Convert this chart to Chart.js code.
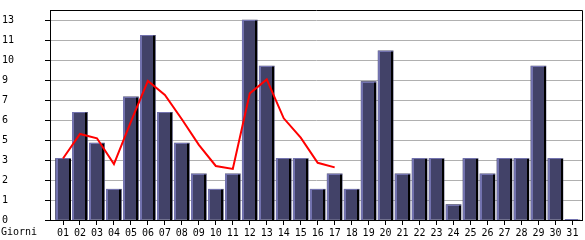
<!DOCTYPE html>
<html>
<head>
<meta charset="utf-8">
<script src="https://cdn.jsdelivr.net/npm/chart.js@4/dist/chart.umd.min.js"></script>
<style>
  html, body { margin: 0; padding: 0; background: #fff; }
  canvas { display: block; }
</style>
</head>
<body>
<canvas id="chart" width="585" height="240"></canvas>
<script>
// giorni del mese
const days = ["01","02","03","04","05","06","07","08","09","10","11","12","13","14","15","16",
  "17","18","19","20","21","22","23","24","25","26","27","28","29","30","31"];

// visite per giorno
const visits = [4, 7, 5, 2, 8, 12, 7, 5, 3, 2, 3, 13, 10, 4, 4, 2, 3, 2, 9, 11, 3, 4, 4, 1, 4, 3, 4, 4, 10, 4, 0];

// linea rossa (media), solo fino al 17
const trend = [4.0, 5.59, 5.31, 3.64, 6.39, 9.04, 8.13, 6.55, 4.88, 3.51, 3.32, 8.23, 9.14, 6.61, 5.35, 3.72, 3.42];

// tacche asse y
const yTicks = [0, 1.3, 2.6, 3.9, 5.2, 6.5, 7.8, 9.1, 10.4, 11.7, 13];
const yTickLabels = ["0", "1", "2", "3", "5", "6", "7", "9", "10", "11", "13"];

const xTitle = "Giorni";

const FONT = { family: "'DejaVu Sans Mono', monospace", size: 10 };

/* bordo 3D delle barre + cornice */
const barStyle = {
  id: "barStyle",
  afterDatasetDraw(chart, args) {
    if (args.index !== 0) return;
    const ctx = chart.ctx;
    ctx.save();
    args.meta.data.forEach((el) => {
      const p = el.getProps(["x", "y", "base", "width"], true);
      const left = Math.round(p.x - p.width / 2);
      const right = Math.round(p.x + p.width / 2);
      const base = Math.round(p.base);
      let top = Math.round(p.y);
      if (top >= base) top = base - 1;
      // ombra a destra
      ctx.fillStyle = "#000";
      ctx.fillRect(right - 2, top + 1, 2, base - top - 1);
      // bordo chiaro
      ctx.fillStyle = "#7272ae";
      ctx.fillRect(left, top, 2, base - top);
      ctx.fillRect(left, top, right - left - 2, 1);
    });
    ctx.restore();
  },
  afterDraw(chart) {
    const ctx = chart.ctx;
    const a = chart.chartArea;
    ctx.save();
    ctx.strokeStyle = "#000";
    ctx.lineWidth = 1;
    ctx.beginPath();
    ctx.moveTo(Math.round(a.left) + 0.5, Math.round(a.top) + 0.5);
    ctx.lineTo(Math.round(a.right) + 0.5, Math.round(a.top) + 0.5);
    ctx.lineTo(Math.round(a.right) + 0.5, Math.round(a.bottom) + 0.5);
    ctx.stroke();
    // titolo asse x
    const xs = chart.scales.x;
    ctx.fillStyle = "#000";
    ctx.font = FONT.size + "px " + FONT.family;
    ctx.textAlign = "left";
    ctx.textBaseline = "top";
    ctx.fillText(xTitle, 1, xs.top + 5 + 2);
    ctx.restore();
  },
};

new Chart(document.getElementById("chart"), {
  data: {
    datasets: [
      {
        type: "bar",
        order: 2,
        data: visits.map((v, i) => ({ x: i + 1, y: v })),
        backgroundColor: "#424268",
        borderWidth: 0,
        barThickness: 15,
      },
      {
        type: "line",
        order: 1,
        data: trend.map((v, i) => ({ x: i + 1, y: v })),
        borderColor: "#ff0000",
        borderWidth: 2,
        pointRadius: 0,
        tension: 0,
        fill: false,
      },
    ],
  },
  options: {
    responsive: false,
    animation: false,
    layout: { padding: { left: 2, top: 10, right: 3, bottom: 0 } },
    plugins: { legend: { display: false }, tooltip: { enabled: false } },
    scales: {
      x: {
        type: "linear",
        offset: false,
        min: 0.234,
        max: 31.566,
        afterBuildTicks: (s) => {
          s.ticks = days.map((d, i) => ({ value: i + 1 }));
        },
        afterFit: (s) => { s.height = 20; },
        ticks: {
          autoSkip: false,
          maxRotation: 0,
          padding: 2,
          color: "#000",
          font: FONT,
          callback: (v) => days[v - 1],
        },
        grid: { offset: false, drawOnChartArea: false, tickLength: 5, tickColor: "#000" },
        border: { color: "#000" },
      },
      y: {
        min: 0,
        max: 13.65,
        afterBuildTicks: (s) => {
          s.ticks = yTicks.map((v) => ({ value: v }));
        },
        afterFit: (s) => { s.width = 48; },
        ticks: {
          crossAlign: "far",
          color: "#000",
          font: FONT,
          callback: (v, i) => yTickLabels[i],
        },
        grid: { color: "#b0b0b0", tickLength: 5, tickColor: "#000" },
        border: { color: "#000" },
      },
    },
  },
  plugins: [barStyle],
});
</script>
</body>
</html>
